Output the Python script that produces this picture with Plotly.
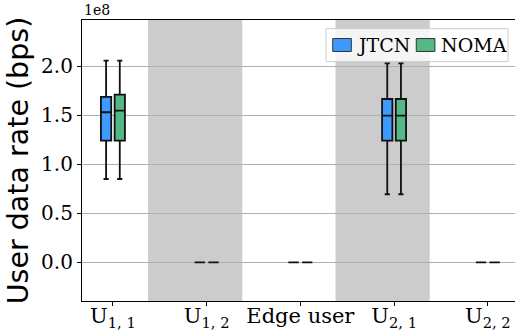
import plotly.graph_objects as go

# ---- data (bps) ----
categories = ["U<sub>1, 1</sub>", "U<sub>1, 2</sub>", "Edge user", "U<sub>2, 1</sub>", "U<sub>2, 2</sub>"]

jtcn_lower = [0.85e8, 0.0, 0.0, 0.694e8, 0.0]
jtcn_q1 = [1.241e8, 0.0, 0.0, 1.241e8, 0.0]
jtcn_median = [1.531e8, 0.0, 0.0, 1.496e8, 0.0]
jtcn_q3 = [1.687e8, 0.0, 0.0, 1.666e8, 0.0]
jtcn_upper = [2.057e8, 0.0, 0.0, 2.03e8, 0.0]

noma_lower = [0.85e8, 0.0, 0.0, 0.694e8, 0.0]
noma_q1 = [1.241e8, 0.0, 0.0, 1.241e8, 0.0]
noma_median = [1.547e8, 0.0, 0.0, 1.496e8, 0.0]
noma_q3 = [1.710e8, 0.0, 0.0, 1.666e8, 0.0]
noma_upper = [2.057e8, 0.0, 0.0, 2.03e8, 0.0]

ytick_vals = [0.0, 0.5e8, 1.0e8, 1.5e8, 2.0e8]
ytick_text = ["0.0", "0.5", "1.0", "1.5", "2.0"]
shaded_categories = [1, 3]
series_names = ["JTCN", "NOMA"]
series_colors = ["#3d9bff", "#52b884"]

SERIF = "DejaVu Serif"
pos = list(range(len(categories)))
offset = 0.073
bw = 0.11
EDGE = "#111111"

fig = go.Figure()
stats = [
    (jtcn_q1, jtcn_median, jtcn_q3, jtcn_lower, jtcn_upper),
    (noma_q1, noma_median, noma_q3, noma_lower, noma_upper),
]
for k, (q1, med, q3, lo, hi) in enumerate(stats):
    sgn = -1 if k == 0 else 1
    fig.add_trace(go.Box(
        name=series_names[k], x=[p + sgn * offset for p in pos],
        q1=q1, median=med, q3=q3, lowerfence=lo, upperfence=hi,
        width=bw, whiskerwidth=0.5,
        fillcolor=series_colors[k], line=dict(color=EDGE, width=1.8),
        boxpoints=False, showlegend=False,
    ))

for c in shaded_categories:
    fig.add_shape(type="rect", xref="x", yref="paper",
                  x0=c - 0.625, x1=c + 0.38, y0=0, y1=1,
                  fillcolor="#cccccc", line=dict(width=0), layer="below")

# legend (drawn as layout decoration)
fig.add_shape(type="rect", xref="paper", yref="paper",
              x0=0.5635, x1=0.984, y0=0.852, y1=0.969,
              fillcolor="rgba(255,255,255,0.8)", line=dict(color="#cccccc", width=1),
              layer="above")
leg_sq = [(0.579, 0.622), (0.772, 0.815)]
leg_tx = [0.631, 0.824]
for k in range(2):
    fig.add_shape(type="rect", xref="paper", yref="paper",
                  x0=leg_sq[k][0], x1=leg_sq[k][1], y0=0.888, y1=0.934,
                  fillcolor=series_colors[k], line=dict(color="#333333", width=1),
                  layer="above")
    fig.add_annotation(text=series_names[k], xref="paper", yref="paper",
                       x=leg_tx[k], y=0.911, xanchor="left", yanchor="middle",
                       showarrow=False, font=dict(family=SERIF, size=19, color="black"))

fig.add_annotation(text="1e8", xref="paper", yref="paper", x=0, y=1,
                   xanchor="left", yanchor="bottom", showarrow=False,
                   font=dict(family=SERIF, size=14, color="black"), yshift=0)

fig.update_layout(
    width=515, height=331,
    margin=dict(l=82, r=0, t=20, b=30),
    paper_bgcolor="white", plot_bgcolor="white",
    boxmode="overlay",
    showlegend=False,
    xaxis=dict(range=[-0.33, 4.29], tickvals=pos, ticktext=categories,
               tickfont=dict(family=SERIF, size=21, color="black"),
               showgrid=False, zeroline=False, automargin=False,
               showline=True, linecolor="black", linewidth=1.2, mirror=True,
               ticks="outside", ticklen=4, tickcolor="black", ticklabelstandoff=-8),
    yaxis=dict(range=[-0.395e8, 2.472e8], tickvals=ytick_vals, ticktext=ytick_text,
               tickfont=dict(family=SERIF, size=20, color="black"),
               showgrid=True, gridcolor="#b0b0b0", gridwidth=1, zeroline=False,
               showline=True, linecolor="black", linewidth=1.2, automargin=False,
               ticks="outside", ticklen=4, tickcolor="black",
               title=dict(text="User data rate (bps)", standoff=4,
                          font=dict(family="DejaVu Sans", size=28.5, color="black"))),
)

fig.write_html("out.html", config={"displayModeBar": False},
               post_script="document.body.style.margin='0';document.body.style.overflow='hidden';")
